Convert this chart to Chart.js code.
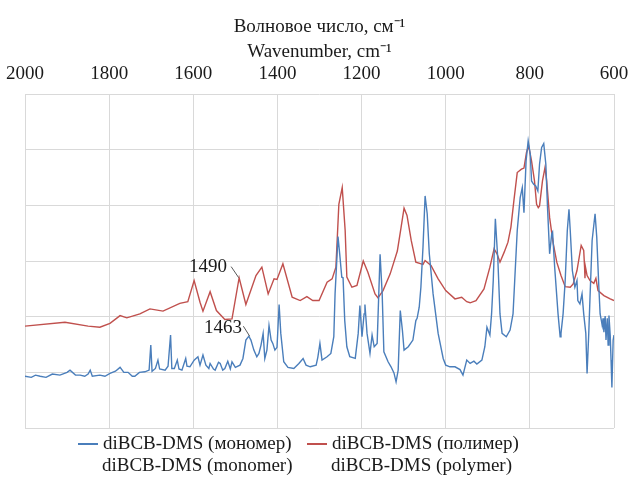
<!DOCTYPE html>
<html>
<head>
<meta charset="utf-8">
<script src="https://cdn.jsdelivr.net/npm/chart.js@4/dist/chart.umd.min.js"></script>
<style>
  body { margin: 0; background: #fff; }
  #wrap { width: 628px; height: 479px; }
</style>
</head>
<body>
<div id="wrap"><canvas id="myChart" width="628" height="479"></canvas></div>
<script>
// wavenumber (cm-1) / relative intensity
const monoWn = [2000,1985,1975,1964,1950,1935,1917,1900,1893,1880,1869,1858,1850,1845,1840,1822,1810,1798,1785,1774,1765,1755,1745,1739,1728,1715,1705,1701,1698,1690,1684,1680,1667,1660,1654,1651,1645,1638,1634,1627,1618,1615,1608,1598,1589,1584,1577,1570,1563,1560,1552,1548,1540,1536,1530,1525,1518,1512,1508,1500,1489,1482,1475,1468,1463,1456,1449,1444,1439,1434,1430,1425,1420,1415,1411,1406,1401,1396,1392,1385,1375,1361,1349,1339,1332,1322,1308,1304,1299,1294,1282,1273,1266,1263,1256,1252,1247,1244,1240,1235,1228,1215,1208,1204,1199,1194,1192,1187,1180,1175,1170,1163,1156,1151,1147,1137,1130,1123,1118,1113,1108,1103,1099,1089,1078,1071,1068,1063,1059,1054,1049,1044,1039,1030,1018,1006,1000,990,978,966,959,950,942,933,926,914,907,902,895,891,887,882,876,871,866,856,847,840,836,830,823,818,814,809,804,799,796,791,786,781,777,772,767,762,758,753,748,746,741,733,728,726,721,716,711,707,704,699,693,688,686,681,676,672,667,664,660,657,652,645,641,636,633,630,628,626,624,621,619,616,614,612,609,607,605,602,600];
const monoVal = [0.93,0.91,0.95,0.93,0.91,0.97,0.95,1.00,1.04,0.95,0.95,0.93,0.97,1.04,0.93,0.95,0.93,0.98,1.02,1.09,1.00,1.00,0.93,0.93,1.00,1.01,1.04,1.49,1.02,1.07,1.22,1.06,1.04,1.11,1.67,1.07,1.07,1.22,1.06,1.04,1.25,1.11,1.10,1.22,1.28,1.13,1.31,1.13,1.07,1.16,1.06,1.04,1.18,1.16,1.04,1.07,1.20,1.06,1.19,1.09,1.13,1.25,1.58,1.65,1.58,1.40,1.28,1.34,1.49,1.70,1.25,1.40,1.84,1.58,1.52,1.40,1.45,2.22,1.70,1.19,1.09,1.07,1.16,1.25,1.13,1.10,1.13,1.27,1.52,1.22,1.28,1.34,1.64,2.41,3.44,3.13,2.71,2.70,1.93,1.46,1.28,1.25,1.70,2.20,1.64,2.05,2.22,1.70,1.34,1.67,1.46,1.52,3.12,2.41,1.37,1.19,1.10,0.99,0.83,1.04,2.11,1.76,1.40,1.46,1.58,1.93,1.97,2.17,2.53,3.25,4.17,3.85,3.13,2.41,1.70,1.25,1.13,1.10,1.10,1.05,0.95,1.22,1.16,1.20,1.15,1.22,1.46,1.81,1.67,2.05,2.65,3.76,3.01,2.05,1.70,1.64,1.76,2.05,2.65,3.55,4.14,4.32,3.87,4.80,5.16,4.92,4.44,4.38,4.35,4.26,4.74,5.04,5.11,4.74,3.96,3.13,3.49,3.52,2.89,2.05,1.64,1.70,2.05,2.65,3.55,3.93,3.55,2.83,2.53,2.65,2.29,2.23,2.41,2.05,1.70,0.98,1.70,2.35,3.37,3.85,3.43,2.53,2.05,1.93,1.84,1.97,1.72,2.01,1.58,1.97,1.49,2.02,1.67,1.22,0.73,1.58,1.67];

const polyWn = [2000,1905,1850,1822,1798,1774,1758,1727,1703,1672,1632,1613,1598,1584,1577,1560,1545,1525,1508,1491,1475,1451,1437,1422,1408,1401,1387,1365,1346,1330,1316,1301,1282,1270,1261,1254,1246,1239,1235,1223,1211,1196,1185,1168,1161,1149,1132,1115,1106,1099,1092,1082,1071,1054,1049,1035,1018,1000,978,962,950,942,928,909,895,885,878,871,861,852,845,838,830,820,814,808,803,796,789,784,780,777,770,764,760,753,745,736,726,716,704,697,688,678,672,670,669,668,664,657,648,643,638,624,609,600];
const polyVal = [1.83,1.90,1.83,1.81,1.88,2.02,1.98,2.05,2.14,2.10,2.24,2.27,2.65,2.26,2.10,2.45,2.11,1.95,1.96,2.70,2.22,2.74,2.89,2.41,2.68,2.67,2.95,2.35,2.29,2.36,2.29,2.29,2.62,2.68,2.89,4.02,4.32,3.55,2.71,2.53,2.56,3.00,2.80,2.41,2.34,2.47,2.77,3.18,3.61,3.95,3.82,3.37,2.98,2.94,3.01,2.92,2.68,2.47,2.32,2.35,2.27,2.25,2.29,2.50,2.89,3.22,3.13,2.98,3.16,3.34,3.61,4.08,4.59,4.65,4.67,4.95,5.07,4.80,4.44,4.02,3.96,3.99,4.44,4.68,4.44,3.78,3.34,2.98,2.74,2.54,2.53,2.59,2.83,3.28,3.19,2.90,2.69,2.90,2.74,2.65,2.60,2.69,2.47,2.38,2.32,2.29];

const xTicks = [2000, 1800, 1600, 1400, 1200, 1000, 800, 600];
const axisTitle = ['Волновое число, см\u207B\u00B9', 'Wavenumber, cm\u207B\u00B9'];
const seriesNames = [
  ['diBCB-DMS (мономер)', 'diBCB-DMS (monomer)'],
  ['diBCB-DMS (полимер)', 'diBCB-DMS (polymer)']
];
const peakLabels = [
  { text: '1490', tx: 1520, ty: 2.89, x1: 1510, y1: 2.90, x2: 1492, y2: 2.70 },
  { text: '1463', tx: 1484, ty: 1.80, x1: 1481, y1: 1.83, x2: 1466, y2: 1.65 }
];

const blue = '#4a7ebb';
const red = '#c0504d';
const serif = '"Liberation Serif", "Times New Roman", serif';

function toPoints(xs, ys) {
  return xs.map((x, i) => ({ x: x, y: ys[i] }));
}

// peak labels and the two-line legend under the plot
const extras = {
  id: 'extras',
  afterDraw(chart) {
    const ctx = chart.ctx;
    const xs = chart.scales.x;
    const ys = chart.scales.y;
    ctx.save();
    ctx.font = '19px ' + serif;
    ctx.fillStyle = '#1a1a1a';
    ctx.textBaseline = 'middle';
    peakLabels.forEach(p => {
      ctx.textAlign = 'right';
      ctx.fillText(p.text, xs.getPixelForValue(p.tx), ys.getPixelForValue(p.ty));
      ctx.strokeStyle = '#595959';
      ctx.lineWidth = 1;
      ctx.beginPath();
      ctx.moveTo(xs.getPixelForValue(p.x1), ys.getPixelForValue(p.y1));
      ctx.lineTo(xs.getPixelForValue(p.x2), ys.getPixelForValue(p.y2));
      ctx.stroke();
    });

    const colors = [blue, red];
    const startX = [78, 307];
    const y0 = chart.chartArea.bottom + 16;
    seriesNames.forEach((lines, i) => {
      ctx.strokeStyle = colors[i];
      ctx.lineWidth = 2;
      ctx.beginPath();
      ctx.moveTo(startX[i], y0);
      ctx.lineTo(startX[i] + 20, y0);
      ctx.stroke();
      ctx.textAlign = 'left';
      ctx.fillText(lines[0], startX[i] + 25, y0);
      ctx.fillText(lines[1], startX[i] + 24, y0 + 22);
    });
    ctx.restore();
  }
};

const ctx = document.getElementById('myChart').getContext('2d');

const myChart = new Chart(ctx, {
  type: 'line',
  data: {
    datasets: [{
      label: seriesNames[0].join(' '),
      data: toPoints(monoWn, monoVal),
      borderColor: blue,
      borderWidth: 1.4,
      pointRadius: 0,
      tension: 0
    }, {
      label: seriesNames[1].join(' '),
      data: toPoints(polyWn, polyVal),
      borderColor: red,
      borderWidth: 1.4,
      pointRadius: 0,
      tension: 0
    }]
  },
  options: {
    responsive: false,
    animation: false,
    layout: { padding: { left: 25, right: 14, top: 14, bottom: 51 } },
    plugins: {
      legend: { display: false },
      tooltip: { enabled: false }
    },
    scales: {
      x: {
        type: 'linear',
        position: 'top',
        reverse: true,
        min: 600,
        max: 2000,
        afterBuildTicks: axis => { axis.ticks = xTicks.map(v => ({ value: v })); },
        afterFit: axis => { axis.paddingLeft = 0; axis.paddingRight = 0; },
        ticks: {
          color: '#1a1a1a',
          font: { family: serif, size: 19 },
          padding: 9,
          maxRotation: 0,
          callback: v => String(v)
        },
        grid: { color: '#d9d9d9', drawTicks: false },
        border: { display: false },
        title: {
          display: true,
          text: axisTitle,
          color: '#1a1a1a',
          font: { family: serif, size: 19, lineHeight: 1.35 },
          padding: { top: 0, bottom: -12 }
        }
      },
      y: {
        min: 0,
        max: 6,
        ticks: { display: false, stepSize: 1 },
        grid: { color: '#d9d9d9', drawTicks: false },
        border: { display: false },
        afterFit: axis => { axis.width = 0; }
      }
    }
  },
  plugins: [extras]
});
</script>
</body>
</html>
